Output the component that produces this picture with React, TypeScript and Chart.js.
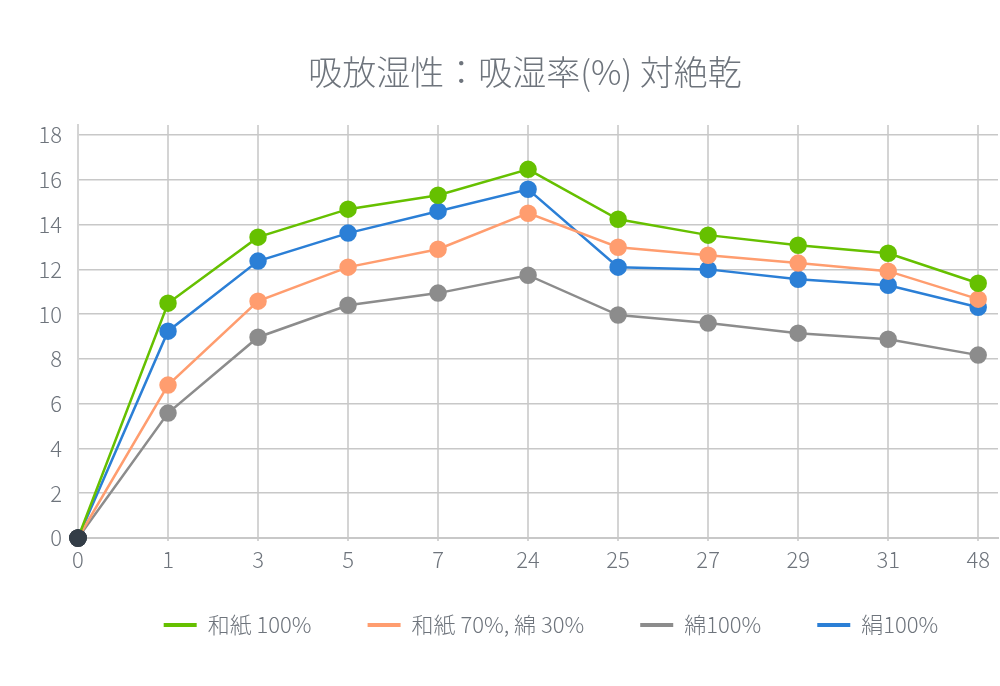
import { Chart, registerables } from 'chart.js';
import { useEffect, useRef } from 'react';

Chart.register(...registerables);

const hours = ['0', '1', '3', '5', '7', '24', '25', '27', '29', '31', '48'];
const washi100 = [0, 10.49, 13.44, 14.69, 15.31, 16.47, 14.24, 13.53, 13.08, 12.72, 11.38];
const washi70 = [0, 6.83, 10.58, 12.1, 12.9, 14.51, 12.99, 12.63, 12.28, 11.92, 10.67];
const cotton100 = [0, 5.58, 8.97, 10.4, 10.94, 11.74, 9.96, 9.6, 9.15, 8.88, 8.17];
const silk100 = [0, 9.24, 12.37, 13.62, 14.6, 15.58, 12.1, 12.0, 11.56, 11.29, 10.31];
const yTicks = [0, 2, 4, 6, 8, 10, 12, 14, 16, 18];

const font = "'Noto Sans CJK JP', 'Noto Sans', sans-serif";
const textColor = '#6e747c';

function series(label: string, values: number[], color: string) {
	return {
		label,
		data: values.map((v, i) => ({ x: i, y: v })),
		borderColor: color,
		backgroundColor: color,
		pointBackgroundColor: values.map((_, i) => (i === 0 ? '#333d47' : color)),
		pointBorderColor: values.map((_, i) => (i === 0 ? '#333d47' : color)),
		pointRadius: 7.5,
		pointHoverRadius: 7.5,
		borderWidth: 2.5,
		tension: 0,
		clip: false as const,
	};
}

// legend sits a little right of the centre in the original
const shiftLegend = {
	id: 'shiftLegend',
	afterLayout(chart: any) {
		if (!chart.legend) return;
		chart.legend.left += 26;
		chart.legend.right += 26;
	},
};

export default function App() {
	const canvas = useRef<HTMLCanvasElement | null>(null);
	useEffect(() => {
		document.body.style.margin = '0';
		if (!canvas.current) return;
		const chart = new Chart(canvas.current, {
			type: 'line',
			data: {
				datasets: [
					series('和紙 100%', washi100, '#66c000'),
					series('和紙 70%, 綿 30%', washi70, '#ff9d6f'),
					series('綿100%', cotton100, '#8c8c8c'),
					series('絹100%', silk100, '#2b7fd6'),
				],
			},
			options: {
				animation: false,
				responsive: true,
				maintainAspectRatio: false,
				layout: { autoPadding: false, padding: { left: 52, right: 2, top: 0, bottom: 40 } },
				scales: {
					x: {
						type: 'linear',
						min: 0,
						max: 10.22,
						afterBuildTicks: (scale: any) => {
							scale.ticks = hours.map((_, i) => ({ value: i }));
						},
						afterFit: (scale: any) => {
							scale.height = 20;
							scale.paddingLeft = 0;
							scale.paddingRight = 0;
							scale._computeLabelArea = () => undefined;
						},
						ticks: {
							callback: (v: any) => hours[v as number] ?? '',
							color: textColor,
							font: { family: font, size: 22, weight: 300 },
							padding: 5,
							maxRotation: 0,
						},
						grid: { color: '#d4d4d4', lineWidth: 2, tickLength: 3 },
						border: { color: '#c8c8c8', width: 2 },
					},
					y: {
						min: 0,
						max: 18.45,
						afterBuildTicks: (scale: any) => {
							scale.ticks = yTicks.map((v) => ({ value: v }));
						},
						afterFit: (scale: any) => {
							scale.width = 26;
							scale.paddingTop = 0;
							scale.paddingBottom = 0;
							scale._computeLabelArea = () => undefined;
						},
						ticks: {
							color: textColor,
							font: { family: font, size: 22, weight: 300 },
							padding: 16,
						},
						grid: { color: '#c8c8c8', lineWidth: 1.5, drawTicks: false },
						border: { color: '#d4d4d4', width: 2 },
					},
				},
				plugins: {
					title: {
						display: true,
						text: '吸放湿性：吸湿率(%) 対絶乾',
						color: '#6e747c',
						font: { family: font, size: 34, weight: 300 },
						padding: { top: 51.6, bottom: 32.6 },
					},
					legend: {
						position: 'bottom',
						labels: {
							color: textColor,
							font: { family: font, size: 22, weight: 300 },
							boxWidth: 33,
							boxHeight: 4,
							padding: 56,
							generateLabels: (c: any) =>
								c.data.datasets.map((d: any, i: number) => ({
									text: d.label,
									fillStyle: d.borderColor,
									strokeStyle: d.borderColor,
									lineWidth: 0,
									fontColor: textColor,
									datasetIndex: i,
								})),
						},
					},
					tooltip: { enabled: false },
				},
			},
			plugins: [shiftLegend],
		});
		return () => chart.destroy();
	}, []);

	return (
		<div style={{ width: 1000, height: 686, position: 'relative' }}>
			<canvas ref={canvas}></canvas>
		</div>
	);
}
